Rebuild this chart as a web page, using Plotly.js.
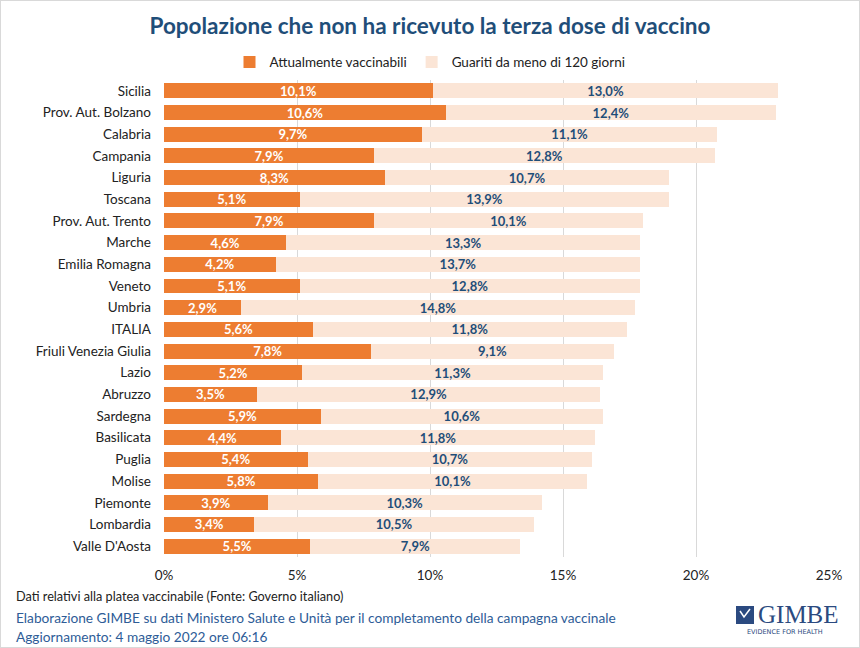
<!DOCTYPE html>
<html>
<head>
<meta charset="utf-8">
<script src="https://cdn.plot.ly/plotly-3.0.1.min.js"></script>
<style>
html,body{margin:0;padding:0;background:#fff;}
#wrap{position:relative;width:860px;height:648px;}
#chart{width:860px;height:648px;}
#frame{position:absolute;left:0;top:0;width:858px;height:646px;border:1px solid #d9d9d9;pointer-events:none;}
</style>
</head>
<body>
<div id="wrap"><div id="chart"></div><div id="frame"></div></div>
<script>
const regions = ["Sicilia","Prov. Aut. Bolzano","Calabria","Campania","Liguria","Toscana","Prov. Aut. Trento","Marche","Emilia Romagna","Veneto","Umbria","ITALIA","Friuli Venezia Giulia","Lazio","Abruzzo","Sardegna","Basilicata","Puglia","Molise","Piemonte","Lombardia","Valle D'Aosta"];
const vaccinabili = [10.1,10.6,9.7,7.9,8.3,5.1,7.9,4.6,4.2,5.1,2.9,5.6,7.8,5.2,3.5,5.9,4.4,5.4,5.8,3.9,3.4,5.5];
const guariti = [13.0,12.4,11.1,12.8,10.7,13.9,10.1,13.3,13.7,12.8,14.8,11.8,9.1,11.3,12.9,10.6,11.8,10.7,10.1,10.3,10.5,7.9];
const tickVals = [0,5,10,15,20,25];
const tickLabels = ["0%","5%","10%","15%","20%","25%"];
const seriesNames = ["Attualmente vaccinabili","Guariti da meno di 120 giorni"];

const FONT = "Lato, 'Open Sans', sans-serif";
const BLUE = "#1F4E79";

const traces = [
  {type:"bar", orientation:"h", name:seriesNames[0], y:regions, x:vaccinabili,
   marker:{color:"#ED7D31"}, texttemplate:"%{x:.1f}%", textposition:"inside", insidetextanchor:"middle",
   constraintext:"none", textangle:0,
   textfont:{color:"#ffffff", size:13, family:FONT, weight:"bold"}, hoverinfo:"skip", cliponaxis:false},
  {type:"bar", orientation:"h", name:seriesNames[1], y:regions, x:guariti,
   marker:{color:"#FBE5D6"}, texttemplate:"%{x:.1f}%", textposition:"inside", insidetextanchor:"middle",
   constraintext:"none", textangle:0,
   textfont:{color:BLUE, size:13, family:FONT, weight:"bold"}, hoverinfo:"skip", cliponaxis:false}
];

const FOOTX = (14-164)/665;
const layout = {
  width:860, height:648,
  margin:{l:164, r:31, t:80, b:91},
  paper_bgcolor:"#ffffff", plot_bgcolor:"#ffffff",
  separators:",.",
  barmode:"stack", bargap:0.31,
  font:{family:FONT, size:12, color:"#222222"},
  title:{text:"Popolazione che non ha ricevuto la terza dose di vaccino", x:0.5, xanchor:"center", xref:"container",
         y:0.959, yanchor:"middle", yref:"container", font:{family:FONT, size:22.5, color:BLUE, weight:"bold"}},
  showlegend:true,
  legend:{orientation:"h", xref:"container", yref:"container", x:0.5, xanchor:"center", y:0.904, yanchor:"middle",
          font:{size:13.5, color:"#222"}, traceorder:"normal", itemwidth:30},
  xaxis:{range:[0,25], tickvals:tickVals, ticktext:tickLabels, showgrid:true, gridcolor:"#d9d9d9", gridwidth:1,
         zeroline:false, showline:false, ticks:"", tickfont:{size:13.5, color:"#222"}, ticklabelstandoff:8, fixedrange:true},
  yaxis:{autorange:"reversed", ticks:"", showline:false, showgrid:false, tickfont:{size:13.5, color:"#222"},
         ticklabelstandoff:12, fixedrange:true},
  annotations:[
    {text:"Dati relativi alla platea vaccinabile (Fonte: Governo italiano)", xref:"paper", yref:"paper",
     x:FOOTX, y:-39/477, xanchor:"left", yanchor:"middle", showarrow:false, font:{size:12.7, color:"#222"}},
    {text:"Elaborazione GIMBE su dati Ministero Salute e Unità per il completamento della campagna vaccinale", xref:"paper", yref:"paper",
     x:FOOTX, y:-60/477, xanchor:"left", yanchor:"middle", showarrow:false, font:{size:13.7, color:"#2E5C97"}},
    {text:"Aggiornamento: 4 maggio 2022 ore 06:16", xref:"paper", yref:"paper",
     x:FOOTX, y:-79/477, xanchor:"left", yanchor:"middle", showarrow:false, font:{size:13.7, color:"#2E5C97"}},
    {text:"GIMBE", xref:"paper", yref:"paper", x:(756-164)/665, y:-57/477, xanchor:"left", yanchor:"middle",
     showarrow:false, font:{family:"'Liberation Serif', 'DejaVu Serif', serif", size:25, color:"#2B4A80"}},
    {text:"EVIDENCE FOR HEALTH", xref:"paper", yref:"paper", x:(785-164)/665, y:-75/477, xanchor:"center", yanchor:"middle",
     showarrow:false, font:{family:"'DejaVu Sans', sans-serif", size:6.5, color:"#2B4A80"}}
  ],
  shapes:[
    {type:"rect", xref:"paper", yref:"paper", x0:(736-164)/665, x1:(754-164)/665, y0:-67/477, y1:-49/477,
     fillcolor:"#2B4A80", line:{width:0}},
    {type:"path", xref:"paper", yref:"paper",
     path:"M "+((740-164)/665)+","+(-54/477)+" L "+((744-164)/665)+","+(-60/477)+" L "+((750-164)/665)+","+(-52/477),
     line:{color:"#ffffff", width:1.5}}
  ]
};

Plotly.newPlot("chart", traces, layout, {displayModeBar:false, staticPlot:true});
</script>
</body>
</html>
